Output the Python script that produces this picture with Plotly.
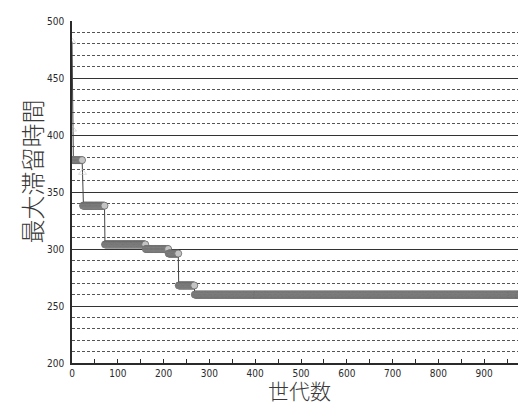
import plotly.graph_objects as go

# Step segments: (first generation, last generation, value)
seg_start = [0, 1, 2, 23, 24, 72, 161, 211, 233, 268]
seg_end = [0, 1, 22, 23, 71, 160, 210, 232, 267, 1000]
seg_value = [482, 405, 378, 367, 338, 304, 300, 296, 268, 260]
seg_symbol = ["triangle-up-open", "triangle-up-open", "circle", "triangle-up-open",
              "circle", "circle", "circle", "circle", "circle", "circle"]

x_tick_vals = [0, 100, 200, 300, 400, 500, 600, 700, 800, 900]
x_tick_text = ["0", "100", "200", "300", "400", "500", "600", "700", "800", "900"]
y_tick_vals = [200, 250, 300, 350, 400, 450, 500]
y_tick_text = ["200", "250", "300", "350", "400", "450", "500"]
y_major_grid = [250, 300, 350, 400, 450]
y_minor_grid = [v for v in range(210, 501, 10) if v not in y_major_grid]

x_title = "世代数"
y_title = "最大滞留時間"

gens, vals, syms = [], [], []
for s, e, v, m in zip(seg_start, seg_end, seg_value, seg_symbol):
    for g in range(s, e + 1):
        gens.append(g)
        vals.append(v)
        syms.append(m)

ink = "#2a2a2a"
tick_font = dict(family="Liberation Sans Narrow, DejaVu Sans Condensed, sans-serif", size=10, color=ink)
title_font = dict(family="Noto Sans CJK JP", size=24, color="#3a3a3a", weight=300)
x_title_font = dict(family="Noto Sans CJK JP", size=21, color="#3a3a3a", weight=300)

fig = go.Figure()
# dummy traces to anchor grid axes
fig.add_trace(go.Scatter(x=[None], y=[None], yaxis="y", showlegend=False, hoverinfo="skip"))
fig.add_trace(go.Scatter(x=[None], y=[None], yaxis="y2", showlegend=False, hoverinfo="skip"))
fig.add_trace(go.Scatter(
    x=gens, y=vals, yaxis="y3", mode="lines+markers",
    line=dict(color="#444", width=1),
    marker=dict(symbol=syms, size=7, color="#c4c4c4", line=dict(color="#555", width=0.6)),
    showlegend=False,
))

yrange = [200, 500]
fig.update_layout(
    width=526, height=407,
    margin=dict(l=64, r=4, t=13, b=52),
    paper_bgcolor="white", plot_bgcolor="white",
    xaxis=dict(
        range=[0, 1000], tickvals=x_tick_vals, ticktext=x_tick_text,
        ticks="inside", ticklen=4, tickcolor=ink, tickwidth=1,
        minor=dict(tickvals=[50, 150, 250, 350, 450, 550, 650, 750, 850, 950],
                   ticks="inside", ticklen=4, tickcolor=ink),
        showgrid=False, zeroline=False,
        showline=True, linecolor=ink, linewidth=1.5, mirror=False,
        tickfont=tick_font,
    ),
    yaxis=dict(
        range=yrange, tickvals=y_tick_vals, ticktext=y_tick_text,
        ticks="", showgrid=False, zeroline=False,
        showline=True, linecolor=ink, linewidth=1.5,
        tickfont=tick_font, ticklabelstandoff=4,
    ),
    yaxis2=dict(
        range=yrange, overlaying="y", tickvals=y_major_grid, showticklabels=False,
        showgrid=True, gridcolor="#333", gridwidth=1, zeroline=False, ticks="",
    ),
    yaxis3=dict(
        range=yrange, overlaying="y", tickvals=y_minor_grid, showticklabels=False,
        showgrid=True, gridcolor="#555", gridwidth=1, griddash="3px,2px", zeroline=False, ticks="",
    ),
    annotations=[
        dict(text=x_title, xref="paper", yref="paper", x=0.496, y=-0.078,
             xanchor="center", yanchor="middle", showarrow=False, font=x_title_font),
        dict(text=y_title, xref="paper", yref="paper", x=-0.0895, y=0.56,
             xanchor="center", yanchor="middle", textangle=-90, showarrow=False, font=title_font),
    ],
)
fig.write_html("out.html")
